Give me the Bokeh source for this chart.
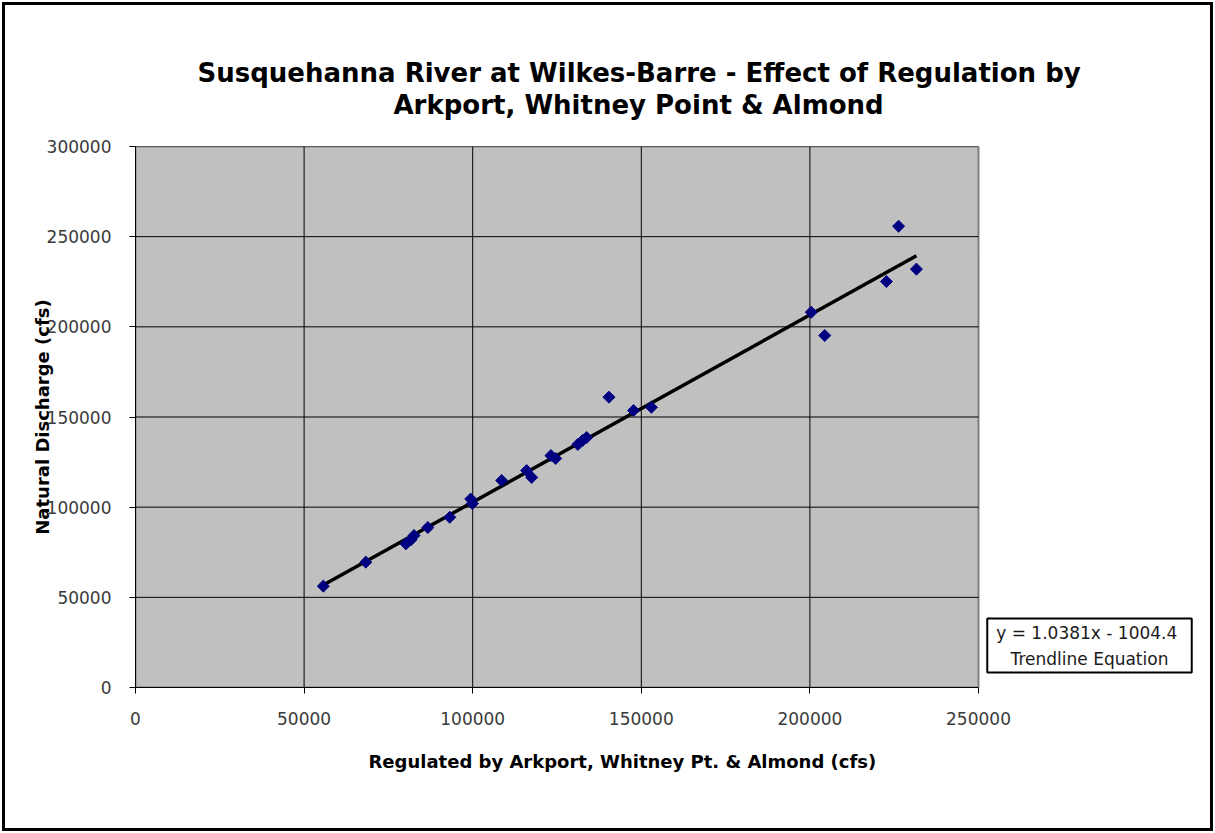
import numpy as np
from bokeh.plotting import figure
from bokeh.models import Title, Label, FixedTicker, BasicTickFormatter, Range1d, InlineStyleSheet
from bokeh.embed import file_html
from bokeh.resources import INLINE

# ---- data ----
regulated = [55700, 68300, 80200, 81700, 82600, 86700, 93200, 99400, 99900,
             108600, 116000, 117500, 123200, 124600, 131200, 132600, 133800,
             140400, 147700, 153000, 200400, 204400, 222700, 226300, 231600]
natural = [56200, 69500, 79700, 81900, 84300, 88700, 94400, 104500, 102000,
           114800, 120300, 116500, 128600, 127000, 134800, 137000, 138600,
           161000, 153600, 155400, 208100, 195200, 225100, 255800, 232000]
trend_slope = 1.0381
trend_intercept = -1004.4
x_ticks = [0, 50000, 100000, 150000, 200000, 250000]
y_ticks = [0, 50000, 100000, 150000, 200000, 250000, 300000]
x_max, y_max = 250000, 300000

title_line1 = "Susquehanna River at Wilkes-Barre - Effect of Regulation by"
title_line2 = "Arkport, Whitney Point & Almond"
x_label = "Regulated by Arkport, Whitney Pt. & Almond (cfs)"
y_label = "Natural Discharge (cfs)"
eq_text = "y = 1.0381x  - 1004.4\nTrendline Equation"

# ---- layout (pixels) ----
W, H = 1215, 833
PL, PT = 135, 146          # plot-area left/top
PW, PH = 843, 541          # plot-area size
FR = 1205                  # extended frame right edge (room for equation box)
frame_w = FR - PL
x_end = x_max * frame_w / PW

BOLD = "DejaVu Sans"

p = figure(width=W, height=H, output_backend="svg", toolbar_location=None,
           x_range=Range1d(0, x_end), y_range=Range1d(0, y_max),
           min_border_left=PL, min_border_right=W - FR,
           min_border_top=PT, min_border_bottom=H - PT - PH)
p.stylesheets = [InlineStyleSheet(css="""
:host { position: relative; }
:host::after { content: ""; position: absolute; left: 2px; top: 2px;
  right: 2px; bottom: 2px; border: 3px solid black; pointer-events: none;
  z-index: 100; }
""")]
p.background_fill_color = "white"
p.border_fill_color = "white"
p.outline_line_color = None
p.xgrid.visible = False
p.ygrid.visible = False

# plot area background + border
p.quad(left=[0], right=[x_max], bottom=[0], top=[y_max], fill_color="#C0C0C0",
       line_color="#808080", line_width=2, level="image")

# grid lines drawn from the tick arrays
gx = [t for t in x_ticks if 0 < t < x_max]
gy = [t for t in y_ticks if 0 < t <= y_max]
p.segment(x0=gx, y0=[0] * len(gx), x1=gx, y1=[y_max] * len(gx),
          line_color="black", line_width=1)
p.segment(x0=[0] * len(gy), y0=gy, x1=[x_max] * len(gy), y1=gy,
          line_color="black", line_width=1)

for ax, ticks, b in ((p.xaxis, x_ticks, (0, x_max)), (p.yaxis, y_ticks, (0, y_max))):
    ax.ticker = FixedTicker(ticks=ticks)
    ax.bounds = b
    ax.formatter = BasicTickFormatter(use_scientific=False)
    ax.major_label_text_font = "DejaVu Sans"
    ax.major_label_text_font_size = "17px"
    ax.major_label_text_color = "#3a3a3a"
    ax.axis_line_color = "black"
    ax.major_tick_line_color = "black"
    ax.major_tick_out = 6
    ax.major_tick_in = 0
    ax.minor_tick_line_color = None
    ax.major_label_standoff = 18

p.yaxis.axis_label = y_label
p.yaxis.axis_label_text_font = BOLD
p.yaxis.axis_label_text_font_style = "bold"
p.yaxis.axis_label_text_font_size = "18px"
p.yaxis.axis_label_text_color = "black"
p.yaxis.axis_label_standoff = -9

# trendline
tx = np.array([min(regulated), max(regulated)], dtype=float)
ty = trend_slope * tx + trend_intercept
p.line(tx, ty, line_color="black", line_width=3.5)

# points
p.scatter(regulated, natural, marker="square", angle=np.pi / 4, size=8.5,
          fill_color="#000080", line_color="#000080")

# titles (left-aligned with pixel offsets so each line is centred at x~638)
p.add_layout(Title(text=title_line2, text_font=BOLD, text_font_size="26px",
                   text_font_style="bold", text_color="black",
                   align="left", offset=258, standoff=54), "above")
p.add_layout(Title(text=title_line1, text_font=BOLD, text_font_size="26px",
                   text_font_style="bold", text_color="black",
                   align="left", offset=62, standoff=-54), "above")
p.add_layout(Title(text=x_label, text_font=BOLD, text_font_size="18px",
                   text_font_style="bold", text_color="black",
                   align="left", offset=233, standoff=42), "below")

# trendline equation box (outside plot area, inside extended frame)
eq_x = (1089 - PL) / PW * x_max
eq_y = (687 - 645) / PH * y_max
p.add_layout(Label(x=eq_x, y=eq_y, text=eq_text, text_font="DejaVu Sans",
                   text_font_size="17px", text_color="#1a1a1a",
                   text_align="center", text_baseline="middle",
                   text_line_height=1.3,
                   border_line_color="black", border_line_width=2,
                   background_fill_color="white",
                   padding=dict(left=9, right=9, top=4, bottom=4)))

open("out.html", "w").write(file_html(p, INLINE))
